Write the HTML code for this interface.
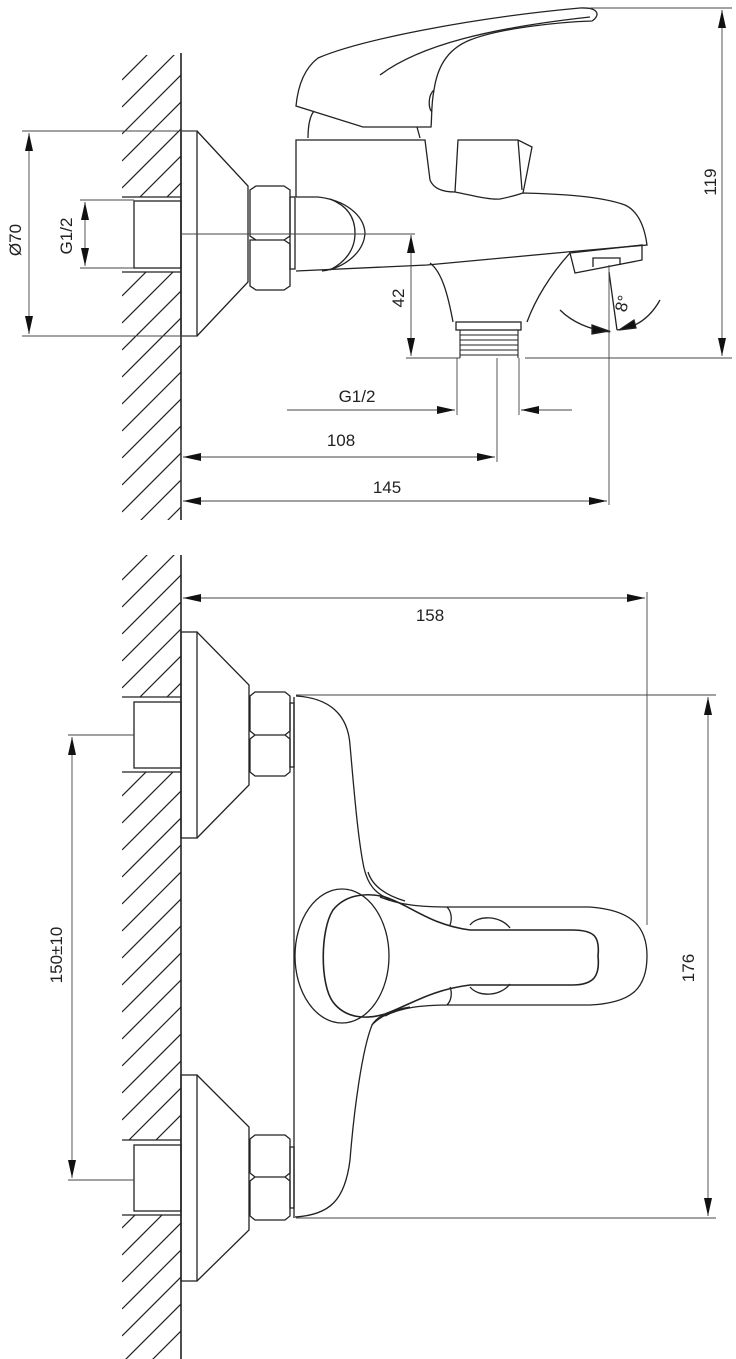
<!DOCTYPE html>
<html><head><meta charset="utf-8"><style>
html,body{margin:0;padding:0;background:#fff}
svg{display:block}
text{font-family:"Liberation Sans",sans-serif;font-size:17px;fill:#222}
</style></head><body>
<svg width="736" height="1359" viewBox="0 0 736 1359" xmlns="http://www.w3.org/2000/svg">
<defs>
<clipPath id="h1"><rect x="122" y="55" width="59" height="142"/><rect x="122" y="272" width="59" height="248"/></clipPath>
<clipPath id="h2"><rect x="122" y="555" width="59" height="142"/><rect x="122" y="772" width="59" height="368"/><rect x="122" y="1215" width="59" height="144"/></clipPath>
<marker id="a" viewBox="0 0 10 6" refX="10" refY="3" markerWidth="18" markerHeight="8" markerUnits="userSpaceOnUse" orient="auto-start-reverse" preserveAspectRatio="none"><path d="M0,0L10,3L0,6z" fill="#111"/></marker>
</defs>
<g stroke="#222" stroke-width="1.3" fill="none">
<g clip-path="url(#h1)" stroke-width="1.2">
<path d="M122,80l70,-70M122,107l70,-70M122,134l70,-70M122,161l70,-70M122,188l70,-70M122,215l70,-70M122,242l70,-70M122,269l70,-70M122,296l70,-70M122,323l70,-70M122,350l70,-70M122,377l70,-70M122,404l70,-70M122,431l70,-70M122,458l70,-70M122,485l70,-70M122,512l70,-70M122,539l70,-70M122,566l70,-70"/>
</g>
<g clip-path="url(#h2)" stroke-width="1.2">
<path d="M122,580l70,-70M122,607l70,-70M122,634l70,-70M122,661l70,-70M122,688l70,-70M122,715l70,-70M122,742l70,-70M122,769l70,-70M122,796l70,-70M122,823l70,-70M122,850l70,-70M122,877l70,-70M122,904l70,-70M122,931l70,-70M122,958l70,-70M122,985l70,-70M122,1012l70,-70M122,1039l70,-70M122,1066l70,-70M122,1093l70,-70M122,1120l70,-70M122,1147l70,-70M122,1174l70,-70M122,1201l70,-70M122,1228l70,-70M122,1255l70,-70M122,1282l70,-70M122,1309l70,-70M122,1336l70,-70M122,1363l70,-70M122,1390l70,-70"/>
</g>
<line x1="181" y1="53" x2="181" y2="520" stroke-width="1.6"/>
<line x1="181" y1="555" x2="181" y2="1359" stroke-width="1.6"/>

<path d="M122,197H181M122,272H181"/>
<rect x="134" y="201" width="47" height="67"/>
<rect x="181" y="131" width="16" height="205"/>
<path d="M197,131L248,186V282L197,336"/>
<path d="M250,190L256,186H284L290,190V236L284,240H256L250,236zM250,240L256,240H284L290,244V286L284,290H256L250,286z"/>
<rect x="290" y="197" width="5" height="72"/>
<path d="M296,106C298,85 305,68 318,58C360,40 470,18 580,8C600,7 600,16 592,21C560,22 500,28 470,40C445,50 437,70 434,90C431,105 432,118 431,127H363z"/>
<path d="M380,75C420,45 490,28 590,17"/>
<path d="M434,90C428,95 428,108 432,112"/>
<path d="M308,138C308,125 310,116 314,111M420,138L417,127"/>
<path d="M296,197V140H425L430,180C434,190 445,192 455,192C475,196 490,200 500,199C510,197 520,194 523,193C560,194 600,196 625,205C640,212 645,230 647,245L567,252L427,265L296,271"/>
<path d="M296,197H318C345,200 364,215 365,233C364,252 345,268 322,271"/>
<path d="M330,199C348,206 355,218 355,233C355,250 345,262 330,270"/>
<path d="M455,192L458,140H518L532,147L527,173L523,193M518,140L522,190"/>
<path d="M430,263C442,272 448,295 453,322M570,253C550,275 535,300 527,322"/>
<rect x="456" y="322" width="65" height="8"/>
<path d="M460,330H518M460,335H518M460,340H518M460,345H518M460,350H518M460,355H518M460,330V358M518,330V358" stroke-width="1.1"/>
<path d="M570,253L642,245V260L575,273z"/>
<path d="M593,267V258H620V265"/>
<path d="M560,310C572,322 590,330 610,332M660,300C650,318 635,328 617,330"/>
<path d="M609,272L617,330"/>
<path d="M592,325L609,331L592,334z M634,320L619,330L636,328z" fill="#111"/>
</g>

<g stroke="#444" stroke-width="0.9" fill="none">
<path d="M22,131H197M22,336H197M80,200H134M80,268H134"/>
<line x1="29" y1="133" x2="29" y2="334" marker-start="url(#a)" marker-end="url(#a)"/>
<line x1="85" y1="202" x2="85" y2="266" marker-start="url(#a)" marker-end="url(#a)"/>
<path d="M181,234H415M590,8H732M525,358H732M406,358H460"/>
<line x1="722" y1="10" x2="722" y2="356" marker-start="url(#a)" marker-end="url(#a)"/>
<line x1="411" y1="235" x2="411" y2="356" marker-start="url(#a)" marker-end="url(#a)"/>
<path d="M457,358V415M519,358V415M497,358V462M609,265V505M181,440V510"/>
<line x1="287" y1="410" x2="455" y2="410" marker-end="url(#a)"/>
<line x1="572" y1="410" x2="521" y2="410" marker-end="url(#a)"/>
<line x1="183" y1="457" x2="495" y2="457" marker-start="url(#a)" marker-end="url(#a)"/>
<line x1="183" y1="501" x2="607" y2="501" marker-start="url(#a)" marker-end="url(#a)"/>
</g>
<text x="21" y="240" transform="rotate(-90 21 240)" text-anchor="middle">Ø70</text>
<text x="72" y="236" transform="rotate(-90 72 236)" text-anchor="middle">G1/2</text>
<text x="404" y="298" transform="rotate(-90 404 298)" text-anchor="middle">42</text>
<text x="716" y="182" transform="rotate(-90 716 182)" text-anchor="middle">119</text>
<text x="628" y="305" transform="rotate(-75 628 305)" text-anchor="middle">8°</text>
<text x="357" y="402" text-anchor="middle">G1/2</text>
<text x="341" y="446" text-anchor="middle">108</text>
<text x="387" y="493" text-anchor="middle">145</text>

<g stroke="#222" stroke-width="1.3" fill="none">
<path d="M122,697H181M122,772H181M122,1140H181M122,1215H181"/>
<rect x="134" y="702" width="47" height="66"/>
<rect x="134" y="1145" width="47" height="66"/>
<rect x="181" y="632" width="16" height="206"/>
<path d="M197,632L249,685V785L197,838"/>
<rect x="181" y="1075" width="16" height="206"/>
<path d="M197,1075L249,1127V1230L197,1281"/>
<path d="M250,696L255,692H285L290,696V731L285,735H255L250,731zM250,739L255,735H285L290,739V772L285,776H255L250,772z"/>
<path d="M250,1139L255,1135H285L290,1139V1173L285,1177H255L250,1173zM250,1181L255,1177H285L290,1181V1216L285,1220H255L250,1216z"/>
<rect x="290" y="703" width="4" height="64"/>
<rect x="290" y="1147" width="4" height="61"/>
<path d="M294,697V1218"/>
<path d="M296,696C330,698 348,715 350,745C354,790 358,840 364,868C368,885 375,893 390,900"/>
<path d="M368,872C372,885 385,895 405,901"/>
<path d="M295,1217C330,1215 345,1200 350,1160C354,1110 362,1050 372,1025C378,1018 390,1012 405,1008"/>
<path d="M372,1025C378,1015 392,1010 410,1007"/>
<ellipse cx="342" cy="956" rx="47" ry="67"/>
<path d="M380,897C400,905 420,907 450,907H590C630,910 647,925 647,956C647,990 630,1003 590,1005H450C420,1005 400,1008 385,1016"/>
<path d="M447,907C452,912 452,920 450,925M447,1005C452,1000 452,992 450,987"/>
<path d="M470,925C478,915 500,915 510,928M470,987C478,997 500,997 510,984"/>
<path d="M385,897C365,892 345,895 333,910C320,930 320,985 333,1002C345,1018 365,1020 385,1014C410,1005 430,990 470,985H572C595,985 600,975 598,956C600,937 595,930 572,930H470C430,925 410,905 385,897z" stroke-width="1.6"/>
</g>
<g stroke="#444" stroke-width="0.9" fill="none">
<path d="M647,592V925M296,695H716M296,1218H716M68,735H134M68,1180H134"/>
<line x1="183" y1="598" x2="645" y2="598" marker-start="url(#a)" marker-end="url(#a)"/>
<line x1="708" y1="697" x2="708" y2="1216" marker-start="url(#a)" marker-end="url(#a)"/>
<line x1="72" y1="737" x2="72" y2="1178" marker-start="url(#a)" marker-end="url(#a)"/>
</g>
<text x="430" y="621" text-anchor="middle">158</text>
<text x="694" y="968" transform="rotate(-90 694 968)" text-anchor="middle">176</text>
<text x="62" y="955" transform="rotate(-90 62 955)" text-anchor="middle">150±10</text>
</svg>
</body></html>
